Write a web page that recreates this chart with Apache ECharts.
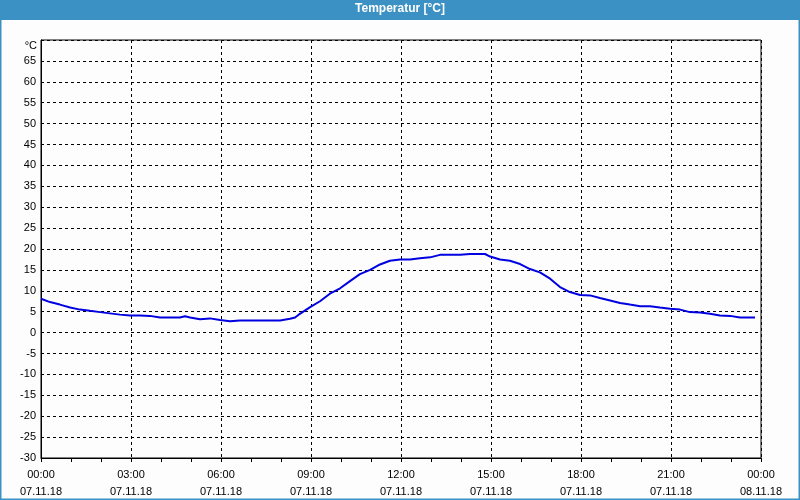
<!DOCTYPE html>
<html>
<head>
<meta charset="utf-8">
<script src="https://cdn.jsdelivr.net/npm/echarts@6/dist/echarts.min.js"></script>
<style>
html,body{margin:0;padding:0;background:#fcfdfc;}
#c{width:800px;height:500px;}
</style>
</head>
<body>
<div id="c"></div>
<script>
// time of day in hours (07.11.18), temperature in °C
var hours = [0, 0.3, 0.63, 0.97, 1.3, 1.63, 1.97, 2.3, 2.63, 2.97, 3.3, 3.63, 3.97, 4.3, 4.63, 4.8, 4.97, 5.3, 5.63, 5.97, 6.3, 6.63, 7.3, 7.97, 8.3, 8.47, 8.63, 8.97, 9.3, 9.63, 9.97, 10.3, 10.63, 10.97, 11.3, 11.63, 11.97, 12.3, 12.63, 12.97, 13.3, 13.97, 14.3, 14.8, 14.97, 15.3, 15.63, 15.97, 16.3, 16.63, 16.97, 17.3, 17.63, 17.97, 18.3, 18.63, 18.97, 19.3, 19.63, 19.97, 20.3, 20.63, 20.97, 21.3, 21.63, 21.97, 22.3, 22.63, 22.97, 23.3, 23.8];
var temps = [8.1, 7.3, 6.7, 6.0, 5.5, 5.2, 4.9, 4.6, 4.3, 4.1, 4.1, 4.0, 3.6, 3.6, 3.6, 3.9, 3.6, 3.2, 3.4, 3.0, 2.7, 2.9, 2.9, 2.9, 3.3, 3.6, 4.5, 6.1, 7.5, 9.3, 10.6, 12.3, 14.0, 15.0, 16.3, 17.2, 17.5, 17.5, 17.8, 18.0, 18.6, 18.6, 18.8, 18.8, 18.2, 17.5, 17.2, 16.4, 15.2, 14.4, 12.9, 10.9, 9.7, 9.0, 8.9, 8.3, 7.7, 7.1, 6.7, 6.3, 6.3, 6.0, 5.7, 5.5, 4.9, 4.8, 4.5, 4.1, 4.0, 3.6, 3.6];
var timeLabels = ['00:00','03:00','06:00','09:00','12:00','15:00','18:00','21:00','00:00'];
var dateLabels = ['07.11.18','07.11.18','07.11.18','07.11.18','07.11.18','07.11.18','07.11.18','07.11.18','08.11.18'];
var titleText = 'Temperatur [°C]';
var unitText = '°C';

var FONT = 'Liberation Sans';
var chart = echarts.init(document.getElementById('c'), null, {renderer: 'canvas'});
var data = hours.map(function (h, i) { return [h, temps[i]]; });

chart.setOption({
  backgroundColor: '#fcfdfc',
  animation: false,
  grid: {left: 41, right: 39, top: 40, bottom: 40, show: true, borderColor: '#000', borderWidth: 1, backgroundColor: 'transparent'},
  graphic: [
    {type: 'rect', left: 0, top: 0, shape: {width: 800, height: 20}, style: {fill: '#3c91c4'}, z: 10},
    {type: 'rect', left: 0, top: 0, shape: {width: 1.5, height: 500}, style: {fill: '#3c91c4'}, z: 10},
    {type: 'rect', right: 0, top: 0, shape: {width: 1.5, height: 500}, style: {fill: '#3c91c4'}, z: 10},
    {type: 'rect', left: 0, bottom: 0, shape: {width: 800, height: 1.5}, style: {fill: '#3c91c4'}, z: 10},
    {type: 'text', left: 'center', top: 3, style: {text: titleText, fill: '#fff', font: 'bold 12px ' + FONT}, z: 11},
    {type: 'text', right: 800 - 37, top: 40, style: {text: unitText, fill: '#000', font: '11px ' + FONT, textAlign: 'right'}, z: 11}
  ],
  xAxis: [{
    type: 'value', min: 0, max: 24, interval: 3,
    axisLine: {show: true, onZero: false, lineStyle: {color: '#000', width: 1}},
    axisTick: {show: true, length: 4, lineStyle: {color: '#000', width: 1}},
    minorTick: {show: true, splitNumber: 3, length: 4, lineStyle: {color: '#000', width: 1}},
    splitLine: {show: true, lineStyle: {color: '#000', type: [3, 3], width: 1}},
    axisLabel: {
      margin: 8, color: '#000', fontFamily: FONT, fontSize: 11, lineHeight: 17,
      showMinLabel: true, showMaxLabel: true,
      formatter: function (v) { var i = Math.round(v / 3); return timeLabels[i] + '\n' + dateLabels[i]; }
    }
  }],
  yAxis: {
    type: 'value', min: -30, max: 70, interval: 5,
    axisLine: {show: true, onZero: false, lineStyle: {color: '#000', width: 1}},
    axisTick: {show: false},
    splitLine: {show: true, lineStyle: {color: '#000', type: [3, 3], width: 1}},
    axisLabel: {
      margin: 5, color: '#000', fontFamily: FONT, fontSize: 11,
      formatter: function (v) { return v >= 70 ? '' : String(v); }
    }
  },
  series: [{
    type: 'line', data: data, showSymbol: false, symbol: 'none',
    lineStyle: {color: '#0000e0', width: 2}, z: 5
  }]
});
</script>
</body>
</html>
